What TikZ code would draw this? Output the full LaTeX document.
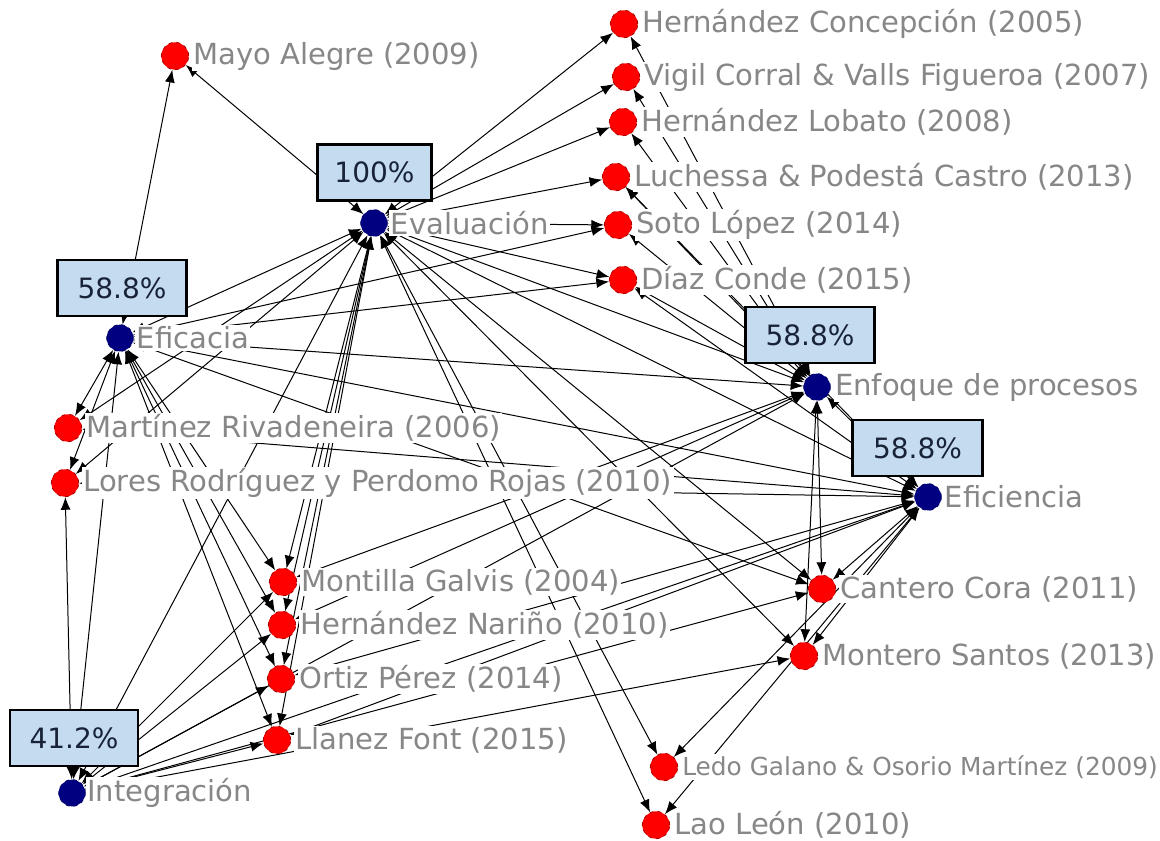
\documentclass[tikz,border=0pt]{standalone}
\usepackage{fontspec}
\setmainfont{DejaVu Sans}
\usetikzlibrary{arrows.meta}
\pgfdeclarelayer{ties}
\pgfsetlayers{ties,main}
\definecolor{boxblue}{RGB}{197,220,240}
\definecolor{pcttext}{RGB}{25,35,55}
\definecolor{lblgray}{RGB}{135,135,135}
\definecolor{navy}{RGB}{0,0,128}
\tikzset{
  author/.style={circle, fill=red, draw=red!65!black, dashed, line width=0.6pt,
    minimum size=20.5pt, inner sep=0pt},
  concept/.style={circle, fill=navy, draw=navy!80!black, dashed, line width=0.6pt,
    minimum size=20pt, inner sep=0pt},
  lbl/.style={anchor=west, text=lblgray, fill=white, inner sep=1pt,
    font=\fontsize{21.8}{23}\selectfont},
  lblsmall/.style={lbl, font=\fontsize{18.6}{20}\selectfont},
  pct/.style={draw=black, line width=2.2pt, fill=boxblue, text=pcttext,
    font=\fontsize{21}{22}\selectfont, minimum height=42pt, inner sep=0pt},
  tie/.style={{Latex[length=9.5pt,width=7.5pt]}-{Latex[length=9.5pt,width=7.5pt]},
    line width=0.75pt, black},
}
\begin{document}
\begin{tikzpicture}[x=0.75pt, y=-0.75pt]
\useasboundingbox (0,0) rectangle (1160,841);

% concepts
\node[concept] (ev)  at (374,223) {};
\node[concept] (ef)  at (120,338) {};
\node[concept] (enf) at (817,387) {};
\node[concept] (efi) at (928,497) {};
\node[concept] (int) at (72,793) {};

% authors
\node[author] (mayo)  at (175,56) {};
\node[author] (hcon)  at (624,24) {};
\node[author] (vig)   at (626,77) {};
\node[author] (hlob)  at (623,122) {};
\node[author] (luch)  at (616,177) {};
\node[author] (soto)  at (618,225) {};
\node[author] (diaz)  at (623,280) {};
\node[author] (mart)  at (68,428) {};
\node[author] (lores) at (65,483) {};
\node[author] (mont)  at (283,582) {};
\node[author] (hnar)  at (282,625) {};
\node[author] (ortiz) at (281,679) {};
\node[author] (llan)  at (277,740) {};
\node[author] (cant)  at (822,589) {};
\node[author] (monte) at (804,656) {};
\node[author] (ledo)  at (664,767) {};
\node[author] (lao)   at (656,825) {};

% ties between the nodes
\begin{pgfonlayer}{ties}
\foreach \a/\b in {ev/ef, ev/enf, ev/efi, ev/int, ef/enf, ef/efi, ef/int,
    enf/efi, enf/int, efi/int,
    ev/mayo, ev/hcon, ev/vig, ev/hlob, ev/luch, ev/soto, ev/diaz, ev/mart,
    ev/lores, ev/mont, ev/hnar, ev/ortiz, ev/llan, ev/cant, ev/monte, ev/ledo, ev/lao,
    ef/mayo, ef/mart, ef/lores, ef/mont, ef/hnar, ef/ortiz, ef/llan, ef/soto, ef/diaz, ef/cant,
    enf/hcon, enf/vig, enf/hlob, enf/luch, enf/soto, enf/diaz, enf/cant, enf/monte, enf/mont, enf/hnar,
    efi/luch, efi/diaz, efi/mart, efi/lores, efi/ortiz, efi/llan, efi/cant, efi/monte, efi/ledo, efi/lao,
    int/lores, int/mont, int/hnar, int/ortiz, int/llan, int/cant, int/monte}
  \draw[tie] (\a) -- (\b);
\end{pgfonlayer}

% labels
\node[lbl] (ev-l)  at ([xshift=1pt]ev.east)  {Evaluación};
\node[lbl] (ef-l)  at ([xshift=1pt]ef.east)  {Eficacia};
\node[lbl] (enf-l) at ([xshift=2pt]enf.east) {Enfoque de procesos};
\node[lbl] (efi-l) at ([xshift=1pt]efi.east) {Eficiencia};
\node[lbl] (int-l) at ([xshift=0pt]int.east) {Integración};
\node[lbl] (mayo-l)  at ([xshift=2pt]mayo.east)  {Mayo Alegre (2009)};
\node[lbl] (hcon-l)  at ([xshift=2pt]hcon.east)  {Hernández Concepción (2005)};
\node[lbl] (vig-l)   at ([xshift=2pt]vig.east)   {Vigil Corral \& Valls Figueroa (2007)};
\node[lbl] (hlob-l)  at ([xshift=2pt]hlob.east)  {Hernández Lobato (2008)};
\node[lbl] (luch-l)  at ([xshift=2pt]luch.east)  {Luchessa \& Podestá Castro (2013)};
\node[lbl] (soto-l)  at ([xshift=2pt]soto.east)  {Soto López (2014)};
\node[lbl] (diaz-l)  at ([xshift=2pt]diaz.east)  {Díaz Conde (2015)};
\node[lbl] (mart-l)  at ([xshift=2pt]mart.east)  {Martínez Rivadeneira (2006)};
\node[lbl] (lores-l) at ([xshift=2pt]lores.east) {Lores Rodríguez y Perdomo Rojas (2010)};
\node[lbl] (mont-l)  at ([xshift=2pt]mont.east)  {Montilla Galvis (2004)};
\node[lbl] (hnar-l)  at ([xshift=2pt]hnar.east)  {Hernández Nariño (2010)};
\node[lbl] (ortiz-l) at ([xshift=2pt]ortiz.east) {Ortiz Pérez (2014)};
\node[lbl] (llan-l)  at ([xshift=2pt]llan.east)  {Llanez Font (2015)};
\node[lbl] (cant-l)  at ([xshift=2pt]cant.east)  {Cantero Cora (2011)};
\node[lbl] (monte-l) at ([xshift=2pt]monte.east) {Montero Santos (2013)};
\node[lblsmall] (ledo-l) at ([xshift=2pt]ledo.east) {Ledo Galano \& Osorio Martínez (2009)};
\node[lbl] (lao-l)   at ([xshift=2pt]lao.east)   {Lao León (2010)};

% coverage percentages
\node[pct, minimum width=86pt] (ev-p)  at (374.5,172.5) {100\%};
\node[pct, minimum width=97pt] (ef-p)  at (122,288)     {58.8\%};
\node[pct, minimum width=97pt] (enf-p) at (810,335)     {58.8\%};
\node[pct, minimum width=97pt] (efi-p) at (917.5,448)   {58.8\%};
\node[pct, minimum width=96pt] (int-p) at (74,738)      {41.2\%};
\end{tikzpicture}
\end{document}
